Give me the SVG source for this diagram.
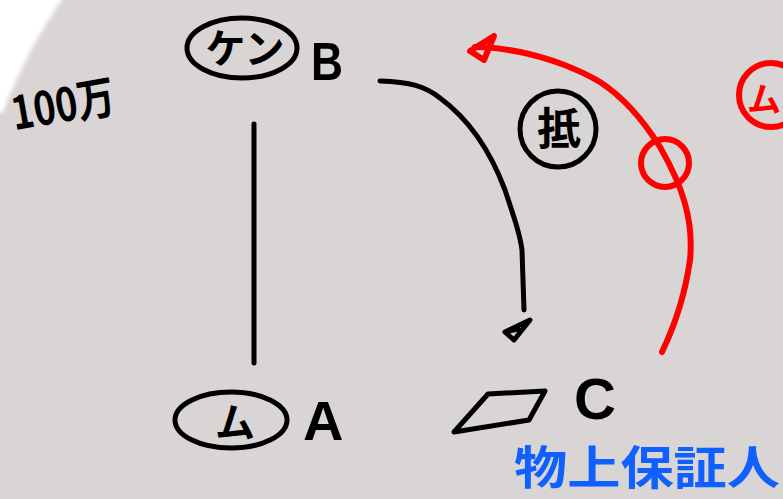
<svg xmlns="http://www.w3.org/2000/svg" width="783" height="499" viewBox="0 0 783 499">
  <defs>
    <style>
      .ink { fill: none; stroke: #000; stroke-width: 5; stroke-linecap: round; stroke-linejoin: round; }
      .red { fill: none; stroke: #ff0000; stroke-width: 6; stroke-linecap: round; stroke-linejoin: round; }
      .lbl { font-family: "Noto Sans CJK JP", "Noto Sans", sans-serif; fill: #000; font-weight: bold; }
      .big { font-family: "Liberation Sans", "DejaVu Sans", sans-serif; fill: #000; }
    </style>
    <filter id="soft" x="-20%" y="-20%" width="140%" height="140%">
      <feGaussianBlur stdDeviation="2"/>
    </filter>
  </defs>

  <!-- paper -->
  <rect width="783" height="499" fill="#d8d5d4"/>
  <path d="M -10 -10 L 64 -10 L 62 0 Q 28 48 3 112 L -10 116 Z" fill="#ffffff" filter="url(#soft)"/>

  <!-- amount -->
  <text class="lbl" x="10" y="122" font-size="46" transform="rotate(-10 60 100)" textLength="104" lengthAdjust="spacingAndGlyphs">100万</text>

  <g id="node-B">
    <ellipse class="ink" cx="242" cy="48" rx="55" ry="30" stroke-width="4"/>
    <text class="lbl" x="245" y="63" font-size="40" text-anchor="middle">ケン</text>
    <text class="big" x="311" y="80" font-size="54" font-weight="bold" textLength="32" lengthAdjust="spacingAndGlyphs">B</text>
  </g>

  <g id="node-A">
    <ellipse class="ink" cx="231" cy="420" rx="56" ry="28" stroke-width="4"/>
    <text class="lbl" x="235" y="437" font-size="40" text-anchor="middle">ム</text>
    <text class="big" x="303" y="440" font-size="56" font-weight="bold">A</text>
  </g>

  <g id="node-C">
    <polygon class="ink" points="454,432 488,394 545,391 529,420"/>
    <text class="big" x="574" y="419" font-size="58" font-weight="bold">C</text>
    <text x="514" y="484" font-family="Noto Sans CJK JP, sans-serif" font-size="46" font-weight="bold" fill="#1060ff" textLength="266" lengthAdjust="spacingAndGlyphs">物上保証人</text>
  </g>

  <g id="mark-mortgage">
    <circle class="ink" cx="558" cy="129" r="38" stroke-width="5"/>
    <text class="lbl" x="559" y="145" font-size="44" text-anchor="middle">抵</text>
  </g>

  <g id="mark-debt-red">
    <circle class="red" cx="771" cy="95" r="32"/>
    <text x="781" y="112" font-family="Noto Sans CJK JP, sans-serif" font-size="34" font-weight="bold" fill="#ff0000" text-anchor="end">ム</text>
  </g>

  <g id="connectors">
    <!-- B to A -->
    <line class="ink" x1="254" y1="124" x2="254" y2="363"/>
    <!-- B to C -->
    <path class="ink" d="M 380 81 C 410 82 425 86 440 98 C 470 120 490 150 505 190 C 515 220 520 235 522 250 L 524 310"/>
    <path class="ink" d="M 505 332 L 530 320 L 514 340 Z M 505 332 L 518 329"/>
    <!-- C to B, red -->
    <path class="red" d="M 662 352 C 675 325 685 295 690 260 C 694 220 682 185 660 147 C 640 115 620 95 600 82 C 580 70 550 58 520 52 C 505 49 492 47 475 47"/>
    <path class="red" d="M 470 51 L 494 36 L 484 60 Z"/>
    <circle class="red" cx="665" cy="163" r="24" stroke-width="5"/>
  </g>
</svg>
